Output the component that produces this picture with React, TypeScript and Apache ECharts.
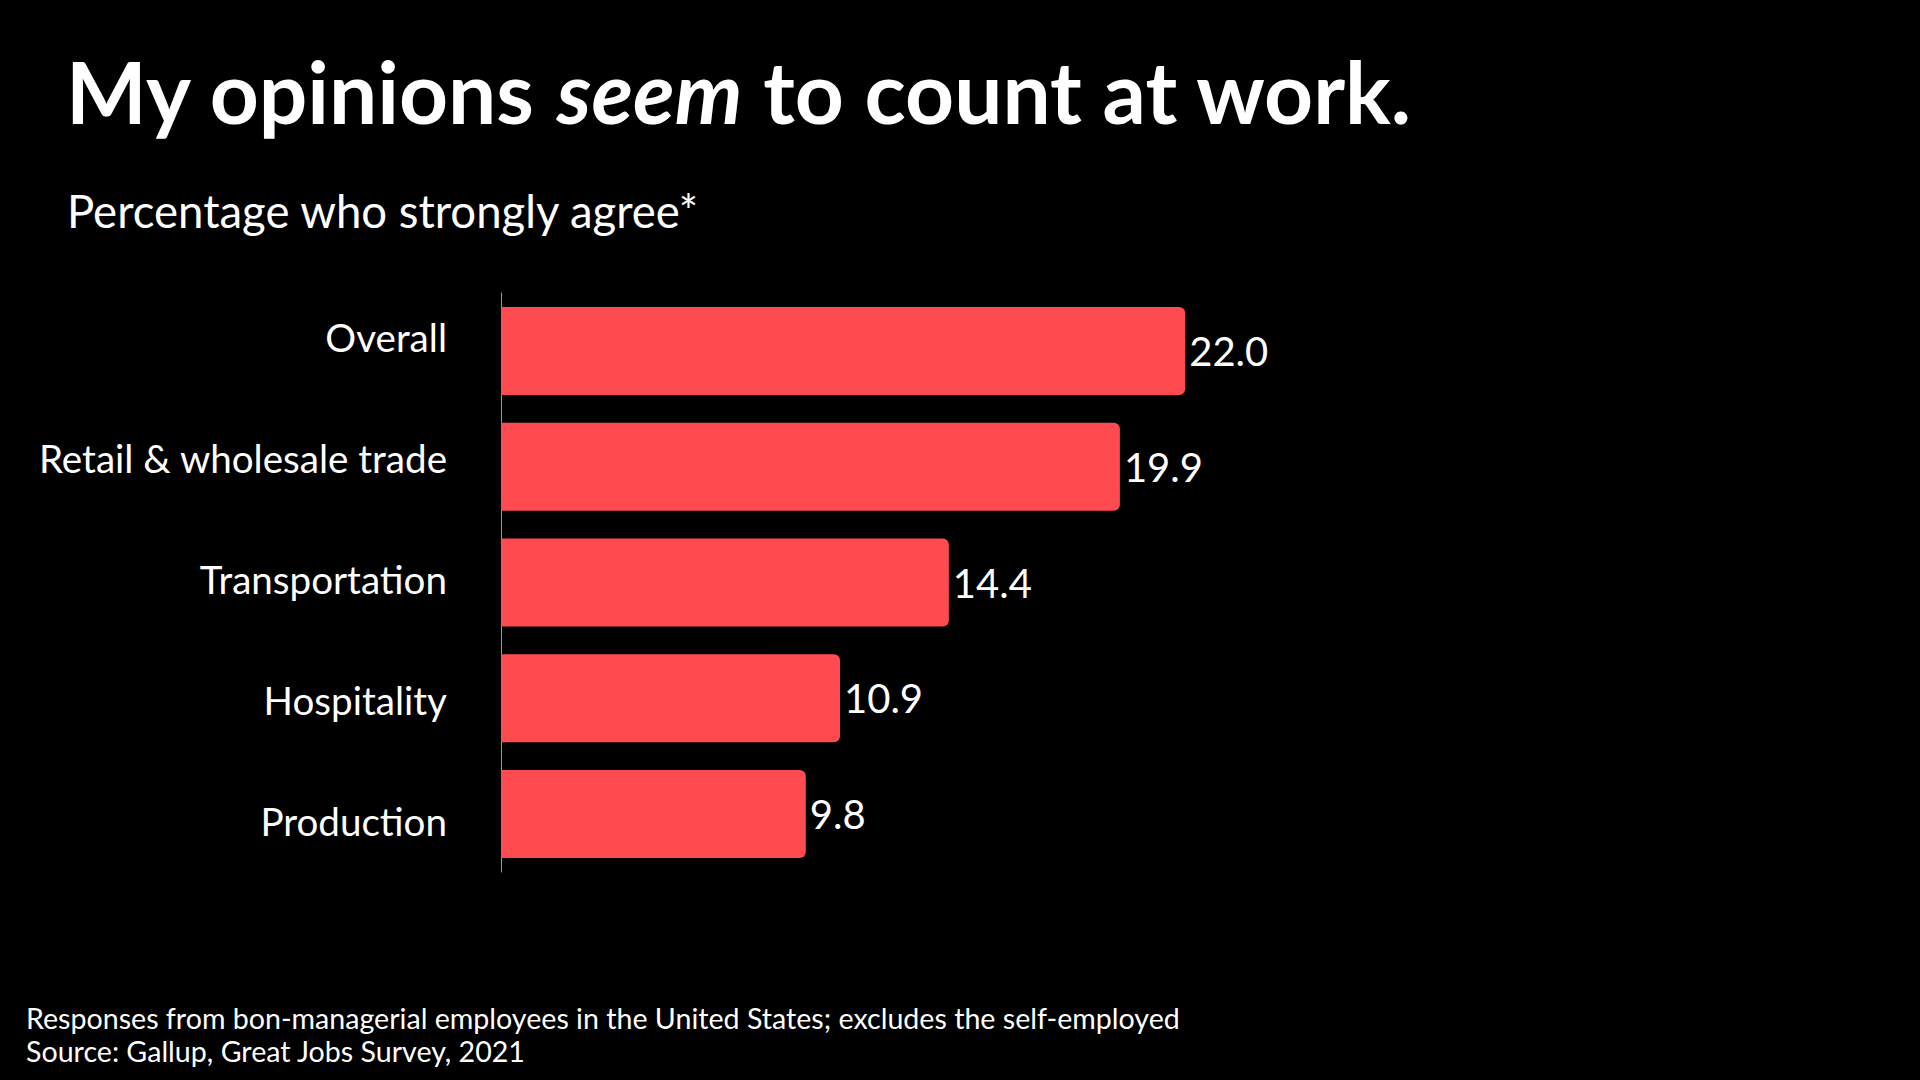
import React, { useEffect, useRef } from "react";
import * as echarts from "echarts";

const categories = ["Overall", "Retail & wholesale trade", "Transportation", "Hospitality", "Production"];
const values = [22.0, 19.9, 14.4, 10.9, 9.8];
const titleParts = ["My opinions ", "seem", " to count at work."];
const subtitle = "Percentage who strongly agree*";
const footnotes = [
  "Responses from bon-managerial employees in the United States; excludes the self-employed",
  "Source: Gallup, Great Jobs Survey, 2021",
];

const FONT = "Lato";

export default function App() {
  const ref = useRef<HTMLDivElement>(null);
  useEffect(() => {
    document.body.style.margin = "0";
    document.body.style.background = "#000";
    const chart = echarts.init(ref.current!, null, { renderer: "svg" });
    chart.setOption({
      animation: false,
      backgroundColor: "#000000",
      grid: [
        { left: 501, top: 293, height: 579, width: 933 },
        { left: 501, top: 276, height: 606, width: 933 },
      ],
      xAxis: [
        { type: "value", gridIndex: 0, min: 0, max: 30, show: false },
        { type: "value", gridIndex: 1, min: 0, max: 30, show: false },
      ],
      yAxis: [
        {
          type: "category",
          gridIndex: 0,
          data: categories,
          inverse: true,
          axisLine: { show: true, lineStyle: { color: "#9a9a9a", width: 1 } },
          axisTick: { show: false },
          axisLabel: { show: false },
          splitLine: { show: false },
        },
        {
          type: "category",
          gridIndex: 1,
          data: categories,
          inverse: true,
          axisLine: { show: false },
          axisTick: { show: false },
          splitLine: { show: false },
          axisLabel: {
            show: true,
            margin: 54,
            color: "#ffffff",
            fontFamily: FONT,
            fontSize: 38.6,
            align: "right",
          },
        },
      ],
      graphic: [
        {
          type: "text",
          left: 66,
          top: 48,
          style: {
            text: `{a|${titleParts[0]}}{b|${titleParts[1]}}{a|${titleParts[2]}}`,
            rich: {
              a: { fontFamily: FONT, fontSize: 85.5, fontWeight: "bold", fill: "#ffffff" },
              b: { fontFamily: FONT, fontSize: 85.5, fontWeight: "bold", fontStyle: "italic", fill: "#ffffff" },
            },
          },
        },
        {
          type: "text",
          x: 67,
          y: 210,
          style: {
            text: subtitle,
            fontFamily: FONT,
            fontSize: 45.5,
            fill: "#ffffff",
            verticalAlign: "middle",
          },
        },
        {
          type: "text",
          x: 26,
          y: 1018,
          style: {
            text: footnotes[0],
            fontFamily: FONT,
            fontSize: 28.6,
            fill: "#ffffff",
            verticalAlign: "middle",
          },
        },
        {
          type: "text",
          x: 26,
          y: 1051,
          style: {
            text: footnotes[1],
            fontFamily: FONT,
            fontSize: 28.6,
            fill: "#ffffff",
            verticalAlign: "middle",
          },
        },
      ],
      series: [
        {
          type: "bar",
          xAxisIndex: 0,
          yAxisIndex: 0,
          data: values,
          barCategoryGap: "24%",
          itemStyle: { color: "#FF4B4F", borderRadius: [0, 6, 6, 0] },
          label: {
            show: true,
            position: "right",
            distance: 4,
            color: "#ffffff",
            fontFamily: FONT,
            fontSize: 40,
            formatter: (p: any) => Number(p.value).toFixed(1),
          },
        },
      ],
    });
    return () => chart.dispose();
  }, []);
  return <div ref={ref} style={{ width: 1920, height: 1080, background: "#000" }} />;
}
